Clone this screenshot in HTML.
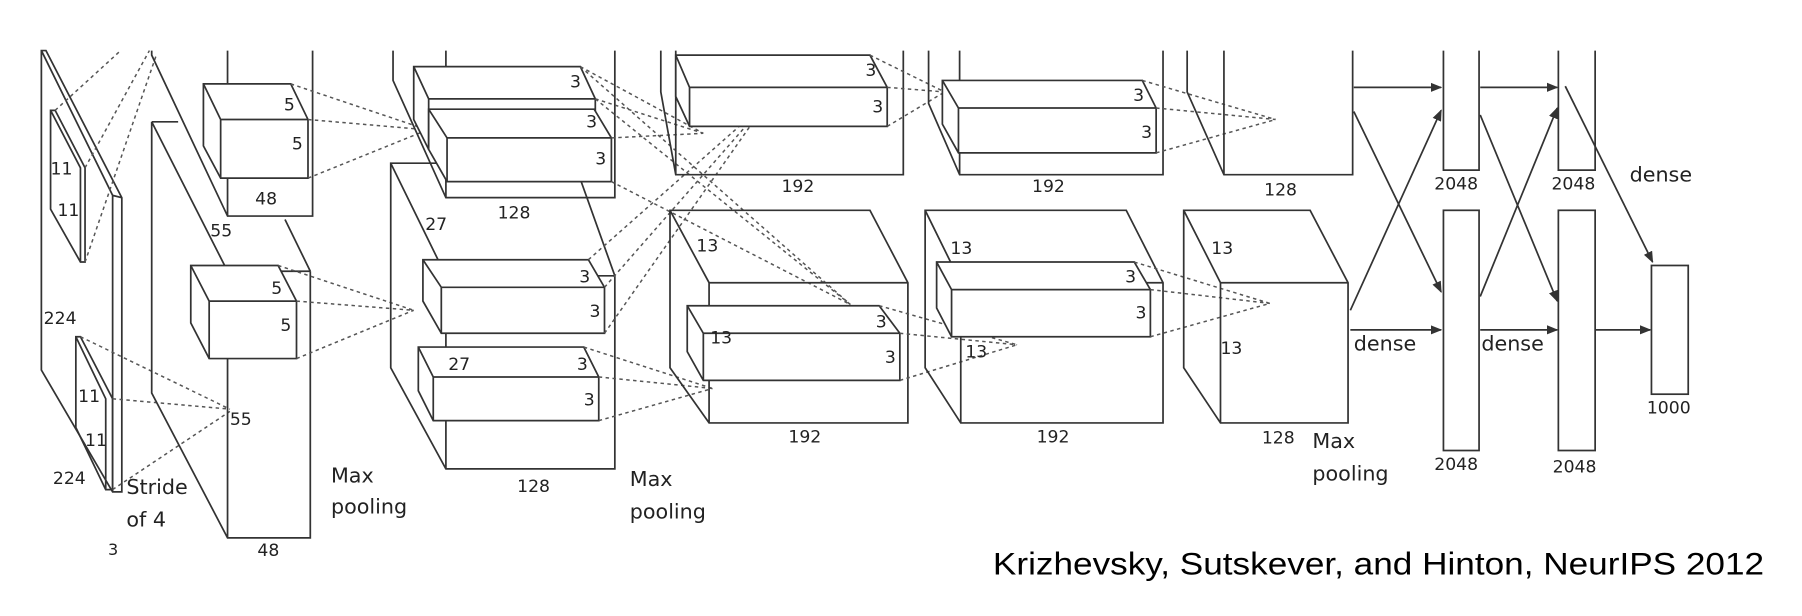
<!DOCTYPE html>
<html><head><meta charset="utf-8"><style>
html,body{margin:0;padding:0;background:#fff;}
svg{display:block;}
text{font-family:"DejaVu Sans","Liberation Sans",sans-serif;fill:#222;}
.l{stroke:#333;stroke-width:1.5;fill:none;}
.f{stroke:#333;stroke-width:1.5;fill:#fff;}
.d{stroke:#555;stroke-width:1.3;stroke-dasharray:3,3;fill:none;}
.a{stroke:#333;stroke-width:1.5;fill:none;marker-end:url(#ar);}
.b{font-size:18px;}
</style></head><body>
<svg width="1802" height="616" viewBox="0 0 1568 536" preserveAspectRatio="none" xmlns="http://www.w3.org/2000/svg" font-size="15">
<defs><marker id="ar" markerWidth="10" markerHeight="8" refX="9" refY="4" orient="auto" markerUnits="userSpaceOnUse"><path d="M0,0 L10,4 L0,8 z" fill="#333"/></marker></defs>

<!-- Layer 1 input -->
<path class="l" d="M36,44 L36,322 L98,428 L106,428 L106,172 L40,44 Z M36,44 L98,170 L98,428 M98,170 L106,172"/>
<path class="l" d="M44,96 L44,182 L70,228 L74,228 L74,146 L48,96 Z M44,96 L70,146 L70,228"/>
<path class="l" d="M66,293 L66,372 L92,426 L98,426 L98,347 L70,293 Z M66,293 L92,347 L92,426"/>
<text x="44" y="152">11</text><text x="50" y="188">11</text>
<text x="38" y="282">224</text><text x="46" y="421">224</text>
<text x="68" y="350">11</text><text x="74" y="388">11</text>
<text x="94" y="483" style="font-size:14px">3</text>
<text x="110" y="430" class="b">Stride</text><text x="110" y="458" class="b">of 4</text>
<path class="d" d="M48,96 L105,44 M74,146 L130,44 M74,228 L136,48 M70,293 L200,356 M98,347 L200,356 M98,426 L200,358"/>

<!-- Layer 2 -->
<path class="l" d="M132,44 L132,48 L198,188 L272,188 L272,44 M198,44 L198,188"/>
<path class="l" d="M132,106 L155,106 M132,106 L132,342 L198,468 L270,468 L270,236 M198,236 L198,468 M132,106 L198,236 L270,236 M248,191 L270,236"/>
<text x="183" y="206">55</text><text x="222" y="178">48</text>
<text x="200" y="370">55</text><text x="224" y="484">48</text>
<path class="f" d="M177,73 L253,73 L268,104 L268,155 L192,155 L177,127 Z"/>
<path class="l" d="M177,73 L192,104 L268,104 M192,104 L192,155"/>
<text x="247" y="96">5</text><text x="254" y="130">5</text>
<path class="f" d="M166,231 L242,231 L258,262 L258,312 L182,312 L166,281 Z"/>
<path class="l" d="M166,231 L182,262 L258,262 M182,262 L182,312"/>
<text x="236" y="256">5</text><text x="244" y="288">5</text>
<path class="d" d="M253,73 L372,113 M268,104 L372,113 M268,155 L372,113 M242,231 L360,270 M258,262 L360,270 M258,312 L360,270"/>
<text x="288" y="420" class="b">Max</text><text x="288" y="447" class="b">pooling</text>

<!-- Layer 3 -->
<path class="l" d="M342,44 L342,70 L388,172 L535,172 L535,44 M388,44 L388,172"/>
<path class="l" d="M340,142 L500,142 L535,240 L535,408 L388,408 L340,320 Z M340,142 L388,240 L535,240 M388,240 L388,408"/>
<text x="370" y="200">27</text><text x="433" y="190">128</text><text x="450" y="428">128</text>
<path class="f" d="M360,58 L505,58 L518,86 L518,130 L373,130 L360,104 Z"/>
<path class="l" d="M360,58 L373,86 L518,86 M373,86 L373,130"/>
<path class="f" d="M373,95 L517,95 L532,120 L532,158 L389,158 L373,130 Z"/>
<path class="l" d="M373,95 L389,120 L532,120 M389,120 L389,158"/>
<text x="496" y="76">3</text><text x="510" y="111">3</text><text x="518" y="143">3</text>
<path class="f" d="M368,226 L512,226 L526,250 L526,290 L384,290 L368,262 Z"/>
<path class="l" d="M368,226 L384,250 L526,250 M384,250 L384,290"/>
<text x="504" y="246">3</text><text x="513" y="276">3</text>
<path class="f" d="M364,302 L508,302 L521,328 L521,366 L377,366 L364,340 Z"/>
<path class="l" d="M364,302 L377,328 L521,328 M377,328 L377,366"/>
<text x="390" y="322">27</text><text x="502" y="322">3</text><text x="508" y="353">3</text>
<path class="d" d="M505,58 L612,116 M518,86 L612,116 M532,120 L612,116 M505,58 L740,265 M518,86 L740,265 M532,158 L740,265 M512,226 L668,88 M526,250 L668,88 M526,290 L668,88 M508,302 L620,338 M521,328 L620,338 M521,366 L620,338"/>
<text x="548" y="423" class="b">Max</text><text x="548" y="451" class="b">pooling</text>

<!-- Layer 4 -->
<path class="l" d="M575,44 L575,80 L588,152 L786,152 L786,44 M588,44 L588,152"/>
<path class="f" d="M588,48 L757,48 L772,76 L772,110 L600,110 L588,84 Z"/>
<path class="l" d="M588,48 L600,76 L772,76 M600,76 L600,110"/>
<text x="753" y="66">3</text><text x="759" y="98">3</text>
<text x="680" y="167">192</text>
<path class="l" d="M583,183 L757,183 L790,246 L790,368 L617,368 L583,320 Z M583,183 L617,246 L790,246 M617,246 L617,368"/>
<text x="606" y="219">13</text><text x="686" y="385">192</text>
<path class="f" d="M598,266 L765,266 L783,290 L783,331 L612,331 L598,306 Z"/>
<path class="l" d="M598,266 L612,290 L783,290 M612,290 L612,331"/>
<text x="618" y="299">13</text><text x="762" y="285">3</text><text x="770" y="316">3</text>
<path class="d" d="M757,48 L822,80 M772,76 L822,80 M772,110 L822,80 M765,266 L885,300 M783,290 L885,300 M783,331 L885,300"/>

<!-- Layer 5 -->
<path class="l" d="M808,44 L808,90 L835,152 L1012,152 L1012,44 M835,44 L835,152"/>
<path class="f" d="M820,70 L994,70 L1006,94 L1006,133 L834,133 L820,108 Z"/>
<path class="l" d="M820,70 L834,94 L1006,94 M834,94 L834,133"/>
<text x="986" y="88">3</text><text x="993" y="120">3</text>
<text x="898" y="167">192</text>
<path class="l" d="M805,183 L980,183 L1012,246 L1012,368 L836,368 L805,320 Z M805,183 L836,246 L1012,246 M836,246 L836,368"/>
<text x="827" y="221">13</text><text x="902" y="385">192</text>
<path class="f" d="M815,228 L987,228 L1001,252 L1001,293 L828,293 L815,268 Z"/>
<path class="l" d="M815,228 L828,252 L1001,252 M828,252 L828,293"/>
<text x="979" y="246">3</text><text x="988" y="277">3</text>
<text x="840" y="311">13</text>
<path class="d" d="M994,70 L1110,104 M1006,94 L1110,104 M1006,133 L1110,104 M987,228 L1105,264 M1001,252 L1105,264 M1001,293 L1105,264"/>

<!-- Layer 6 -->
<path class="l" d="M1033,44 L1033,80 L1065,152 L1177,152 L1177,44 M1065,44 L1065,152"/>
<text x="1100" y="170">128</text>
<path class="l" d="M1030,183 L1140,183 L1173,246 L1173,368 L1062,368 L1030,320 Z M1030,183 L1062,246 L1173,246 M1062,246 L1062,368"/>
<text x="1054" y="221">13</text><text x="1062" y="308">13</text><text x="1098" y="386">128</text>
<text x="1142" y="390" class="b">Max</text><text x="1142" y="418" class="b">pooling</text>

<!-- Dense -->
<path class="l" d="M1256,44 L1256,148 L1287,148 L1287,44"/>
<rect class="l" x="1256" y="183" width="31" height="209"/>
<path class="l" d="M1356,44 L1356,148 L1388,148 L1388,44"/>
<rect class="l" x="1356" y="183" width="32" height="209"/>
<rect class="l" x="1437" y="231" width="32" height="112"/>
<text x="1248" y="165">2048</text><text x="1350" y="165">2048</text>
<text x="1248" y="409">2048</text><text x="1351" y="411">2048</text>
<text x="1433" y="360">1000</text>
<text x="1418" y="158" class="b">dense</text>
<text x="1178" y="305" class="b">dense</text>
<text x="1289" y="305" class="b">dense</text>
<path class="a" d="M1178,76 L1254,76"/>
<path class="a" d="M1178,97 L1254,254"/>
<path class="a" d="M1175,270 L1254,96"/>
<path class="a" d="M1175,287 L1254,287"/>
<path class="a" d="M1288,76 L1355,76"/>
<path class="a" d="M1288,100 L1355,262"/>
<path class="a" d="M1288,258 L1355,94"/>
<path class="a" d="M1288,287 L1355,287"/>
<path class="a" d="M1362,75 L1438,228"/>
<path class="a" d="M1388,287 L1436,287"/>

<text x="864" y="500" textLength="671" lengthAdjust="spacingAndGlyphs" style="font-size:27px;font-family:'Liberation Sans',sans-serif;fill:#000">Krizhevsky, Sutskever, and Hinton, NeurIPS 2012</text>
</svg>
</body></html>
